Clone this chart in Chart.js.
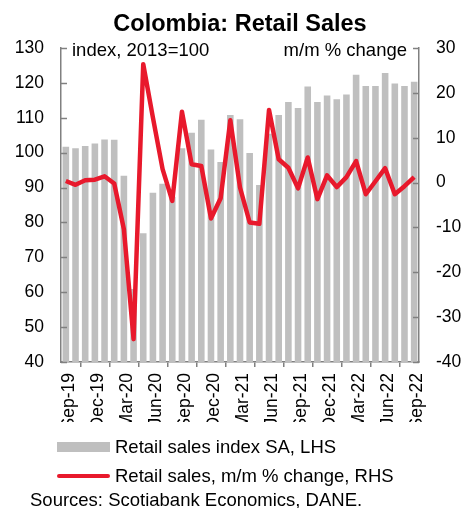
<!DOCTYPE html>
<html>
<head>
<meta charset="utf-8">
<script src="https://cdn.jsdelivr.net/npm/chart.js@4"></script>
<style>
  body { margin: 0; background: #fff; font-family: "Liberation Sans", Arial, sans-serif; }
  #wrap { position: relative; width: 468px; height: 508px; }
  #wrap canvas { position: absolute; left: 0; top: 0; }
  .txt { position: absolute; color: #000; white-space: nowrap; line-height: 1; }
  #title { left: 0; width: 480px; top: 12px; text-align: center; font-weight: bold; font-size: 23.5px; }
  .note { font-size: 18.5px; top: 41px; }
  .leg { left: 57px; font-size: 18.5px; display: flex; align-items: center; }
  .sw { display: inline-block; width: 53px; margin-right: 5px; }
</style>
</head>
<body>
<div id="wrap">
  <canvas id="c" width="468" height="508"></canvas>
  <div id="title" class="txt">Colombia: Retail Sales</div>
  <div class="txt note" style="left:72px">index, 2013=100</div>
  <div class="txt note" style="right:61px">m/m % change</div>
  <div class="txt leg" style="top:438px"><span class="sw" style="height:10px;background:#bfbfbf"></span>Retail sales index SA, LHS</div>
  <div class="txt leg" style="top:467px"><span class="sw" style="height:4px;background:#e8192c;border-radius:2px"></span>Retail sales, m/m % change, RHS</div>
  <div class="txt" style="left:30px;top:491px;font-size:18.5px">Sources: Scotiabank Economics, DANE.</div>
</div>
<script>
const months = [
  "Sep-19", "Oct-19", "Nov-19", "Dec-19", "Jan-20", "Feb-20", "Mar-20", "Apr-20", "May-20",
  "Jun-20", "Jul-20", "Aug-20", "Sep-20", "Oct-20", "Nov-20", "Dec-20", "Jan-21", "Feb-21",
  "Mar-21", "Apr-21", "May-21", "Jun-21", "Jul-21", "Aug-21", "Sep-21", "Oct-21", "Nov-21",
  "Dec-21", "Jan-22", "Feb-22", "Mar-22", "Apr-22", "May-22", "Jun-22", "Jul-22", "Aug-22", "Sep-22"
]

// Retail sales index SA (2013=100), LHS
const salesIndex = [
  101.7, 101.3, 101.9, 102.6, 103.8, 103.7, 93.4, 60.9, 76.9,
  88.5, 91.1, 87.4, 101.3, 105.7, 109.4, 100.9, 97.3, 110.8,
  109.6, 99.9, 90.7, 105.4, 110.8, 114.5, 112.8, 119.0, 114.5,
  116.4, 115.3, 116.7, 122.3, 119.1, 119.1, 122.8, 119.8, 119.1, 120.3
]

// m/m % change, RHS
const momChange = [
  0.35, -0.5, 0.5, 0.65, 1.4, -0.2, -10.4, -34.9, 26.4,
  14.5, 3.0, -4.1, 15.8, 4.1, 3.7, -8.0, -3.5, 13.9,
  -1.1, -8.9, -9.2, 16.2, 5.2, 3.3, -1.3, 5.6, -3.7,
  1.6, -1.0, 1.2, 4.8, -2.6, 0.3, 3.2, -2.6, -0.8, 1.2
]

const leftTicks = { min: 40, max: 130, step: 10 }
const rightTicks = { min: -40, max: 30, step: 10 }

const axisGrey = "#808080"

Chart.defaults.font.family = '"Liberation Sans", Arial, sans-serif'
Chart.defaults.color = "#000"

// tick marks pointing into the plot on both value axes
const innerTicks = {
  id: "innerTicks",
  afterDraw(chart) {
    const { ctx, chartArea } = chart
    ctx.save()
    ctx.strokeStyle = axisGrey
    ctx.lineWidth = 1.5
    for (const [id, x0, x1] of [["y", chartArea.left, chartArea.left + 6], ["y1", chartArea.right - 6, chartArea.right]]) {
      const scale = chart.scales[id]
      scale.ticks.forEach(t => {
        const y = Math.round(scale.getPixelForValue(t.value)) + 0.5
        ctx.beginPath()
        ctx.moveTo(x0, y)
        ctx.lineTo(x1, y)
        ctx.stroke()
      })
    }
    ctx.restore()
  }
}

new Chart(document.getElementById("c"), {
  type: "bar",
  data: {
    labels: months,
    datasets: [
      {
        type: "line",
        label: "Retail sales, m/m % change, RHS",
        data: momChange,
        yAxisID: "y1",
        borderColor: "#e8192c",
        borderWidth: 4.5,
        borderJoinStyle: "round",
        pointRadius: 0,
        tension: 0,
        order: 0
      },
      {
        label: "Retail sales index SA, LHS",
        data: salesIndex,
        yAxisID: "y",
        backgroundColor: "#bfbfbf",
        barPercentage: 0.68,
        categoryPercentage: 1,
        order: 1
      }
    ]
  },
  options: {
    responsive: false,
    animation: false,
    layout: { padding: { top: 48, bottom: 86, left: 0, right: 0 } },
    plugins: {
      legend: { display: false },
      tooltip: { enabled: false }
    },
    scales: {
      x: {
        offset: true,
        grid: { offset: true, drawOnChartArea: false, drawTicks: true, tickLength: 5, color: axisGrey, lineWidth: 1.5 },
        border: { display: true, color: axisGrey, width: 1.5 },
        ticks: {
          autoSkip: false,
          maxRotation: 90,
          minRotation: 90,
          padding: 6,
          labelOffset: 3,
          font: { size: 17.5 },
          callback: (v, i) => (i % 3 === 0 ? months[i] : null)
        },
        afterFit: (s) => { s.height = 60 }
      },
      y: {
        position: "left",
        min: leftTicks.min,
        max: leftTicks.max,
        grid: { display: false },
        border: { display: true, color: axisGrey, width: 1.5 },
        ticks: { stepSize: leftTicks.step, padding: 9, font: { size: 17.5 } },
        afterFit: (s) => { s.width = 61 }
      },
      y1: {
        position: "right",
        min: rightTicks.min,
        max: rightTicks.max,
        grid: { display: false },
        border: { display: true, color: axisGrey, width: 1.5 },
        ticks: { stepSize: rightTicks.step, padding: 9, font: { size: 17.5 } },
        afterFit: (s) => { s.width = 49 }
      }
    }
  },
  plugins: [innerTicks]
})
</script>
</body>
</html>
